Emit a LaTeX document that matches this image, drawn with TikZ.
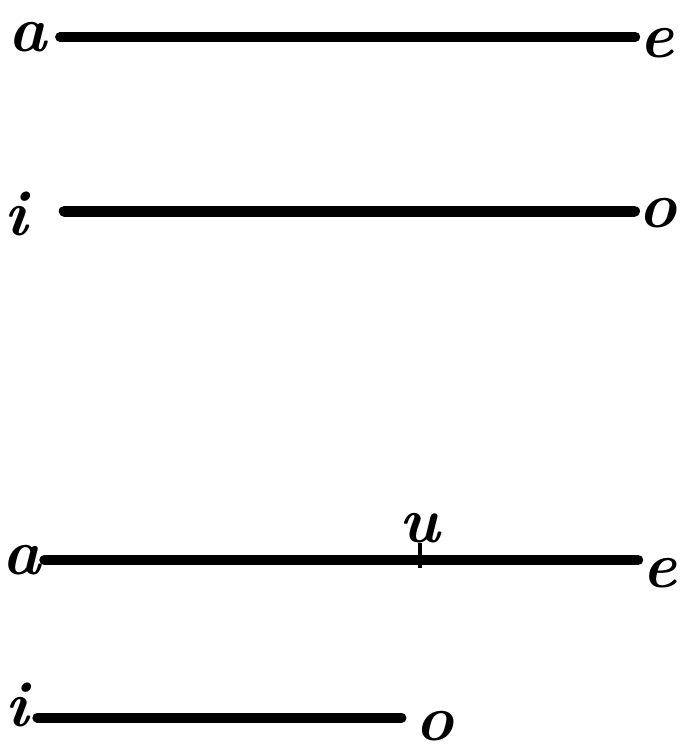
\documentclass[tikz,border=0pt]{standalone}
\usepackage{amsmath}
\usepackage{tikz}
\tikzset{
    lettre/.style={
           inner sep=0pt,
           font=\fontsize{46}{46}\selectfont\bfseries\itshape},
    trait/.style={
           line width=7pt,
           line cap=round},
    trait_fin/.style={
           line width=2.2pt}
    }

\begin{document}
\begin{tikzpicture}[x=0.025cm,y=-0.025cm]
\useasboundingbox (0,0) rectangle (693,753);
% premiere figure
\node[lettre] (a1) at (28,37) {a};
\node[lettre] (e1) at (657,43) {e};
\draw[trait] ([xshift=9pt]a1.east) -- ([xshift=-3pt]a1.east -| e1.west);
\node[lettre] (i2) at (16,214) {i};
\node[lettre] (o2) at (658,213) {o};
\draw[trait,line width=8pt] ([xshift=26pt,yshift=2pt]i2.east) -- ([xshift=-3pt,yshift=2pt]i2.east -| o2.west);
% seconde figure
\node[lettre] (a3) at (22,560) {a};
\node[lettre] (e3) at (660,573) {e};
\draw[trait] ([xshift=2pt]a3.east) -- ([xshift=-3pt]a3.east -| e3.west);
\node[lettre] (u3) at (420,528) {u};
\draw[trait_fin] (u3.south) -- ([yshift=-6pt]u3.south |- a3.east);
\node[lettre] (i4) at (17,705) {i};
\node[lettre] (o4) at (435,726) {o};
\draw[trait] ([xshift=6pt,yshift=-9pt]i4.east) -- ([xshift=-10pt,yshift=-9pt]i4.east -| o4.west);
\end{tikzpicture}
\end{document}
